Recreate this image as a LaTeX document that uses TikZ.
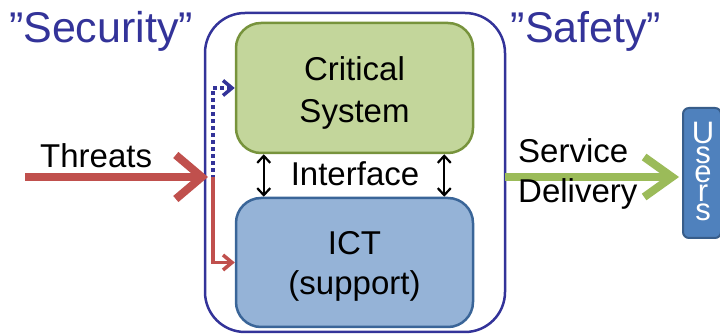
\documentclass[tikz,border=0pt]{standalone}
\usepackage{fontspec}
\setmainfont{Liberation Sans}
\usetikzlibrary{arrows.meta}
\definecolor{secblue}{HTML}{333399}
\definecolor{critfill}{HTML}{C3D69B}
\definecolor{critline}{HTML}{77933C}
\definecolor{ictfill}{HTML}{95B3D7}
\definecolor{ictline}{HTML}{3A6598}
\definecolor{usersfill}{HTML}{4F81BD}
\definecolor{usersline}{HTML}{385D8A}
\definecolor{threatred}{HTML}{C0504D}
\definecolor{servgreen}{HTML}{9BBB59}
\begin{document}
\begin{tikzpicture}[x=1pt,y=-1pt,
  txt/.style={font=\fontsize{33}{40}\selectfont, inner sep=0pt, anchor=base},
  bigtxt/.style={font=\fontsize{43}{50}\selectfont, text=secblue, inner sep=0pt, anchor=base},
  ulet/.style={font=\fontsize{31}{40}\selectfont, text=white, inner sep=0pt, anchor=base, text depth=0pt},
  lowlet/.style={ulet, text height=16pt},
  outerbox/.style={draw=secblue, line width=2.5pt, rounded corners=40pt, inner sep=0pt},
  critbox/.style={draw=critline, fill=critfill, line width=2.5pt, rounded corners=25pt},
  ictbox/.style={draw=ictline, fill=ictfill, line width=2.5pt, rounded corners=25pt},
  usersbox/.style={draw=usersline, fill=usersfill, line width=2pt, rounded corners=6pt, inner sep=0pt},
  thickred/.style={draw=threatred, line width=8pt, -{Straight Barb[length=26pt,width=44pt]}},
  thickgreen/.style={draw=servgreen, line width=8pt, -{Straight Barb[length=28pt,width=40pt]}},
  thinred/.style={draw=threatred, line width=3.5pt, -{Straight Barb[length=9pt,width=15pt]}},
  dotblue/.style={draw=secblue, line width=3.5pt, dash pattern=on 3.5pt off 3.5pt, -{Straight Barb[length=9pt,width=15pt]}},
  dblarrow/.style={draw=black, line width=2.2pt, {Straight Barb[length=7pt,width=13pt]}-{Straight Barb[length=7pt,width=13pt]}}
]
\useasboundingbox (0,0) rectangle (720,336);
\clip (0,0) rectangle (720,336);

% titles
\node[bigtxt] (sec) at (101,43) {”Security”};
\node[bigtxt] (saf) at (586,43) {”Safety”};

% outer boundary
\node[outerbox, minimum width=300pt, minimum height=319pt] (outer) at (355,172.5) {};

% inner boxes
\node[critbox, minimum width=237pt, minimum height=130pt] (crit) at (354.5,88) {};
\node[txt] (crit1) at (354.5,81) {Critical};
\node[txt] (crit2) at (354.5,123) {System};
\node[ictbox, minimum width=237pt, minimum height=129pt] (ict) at (354.5,262.5) {};
\node[txt] (ict1) at (354.5,255) {ICT};
\node[txt] (ict2) at (354.5,295) {(support)};

% interface
\node[txt] (iface) at (355,186) {Interface};
\draw[dblarrow] ([xshift=29pt]crit.south west) -- ([xshift=29pt]ict.north west);
\draw[dblarrow] ([xshift=-30pt]crit.south east) -- ([xshift=-30pt]ict.north east);

% threats
\coordinate (tstart) at (25,177);
\coordinate (ttip) at (208,177);
\coordinate (br) at (213,177);
\draw[dotblue] ([yshift=-2pt]br) |- (crit.west);
\draw[thinred] (br) |- (ict.west);
\draw[thickred] (tstart) -- (ttip);
\node[txt, anchor=base west] (threats) at (40,168) {Threats};

% users
\node[usersbox, minimum width=38pt, minimum height=130pt] (users) at (702,173) {};
\node[ulet] (u1) at (703,144) {U};
\node[lowlet] (u2) at (703,164) {s};
\node[lowlet] (u3) at (703,183) {e};
\node[lowlet] (u4) at (703,202) {r};
\node[lowlet] (u5) at (703,221) {s};

% service delivery
\coordinate (gstart) at (505,177);
\draw[thickgreen, shorten >=3pt] (gstart) -- (users.west |- gstart);
\node[txt, anchor=base west] (serv) at (518,163) {Service};
\node[txt, anchor=base west] (deliv) at (518,203) {Delivery};
\end{tikzpicture}
\end{document}
